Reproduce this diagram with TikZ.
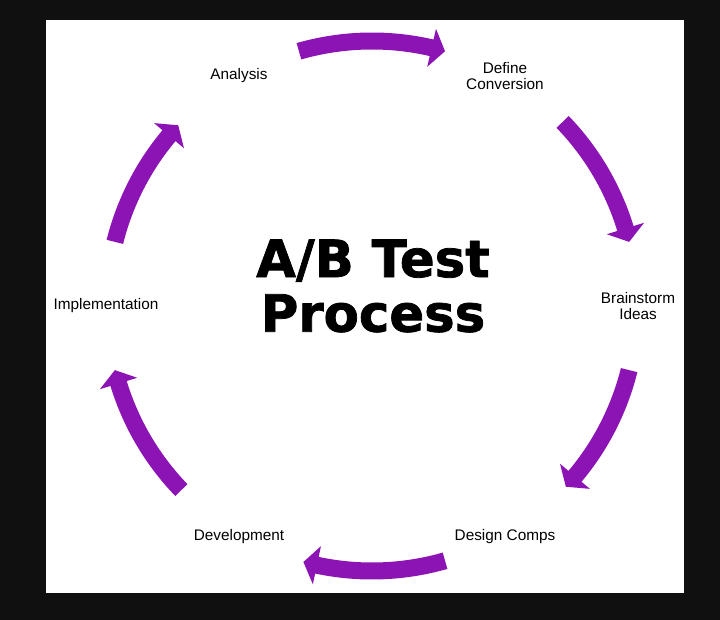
\documentclass[tikz,border=0pt]{standalone}
\usepackage{fontspec}
\setmainfont{Liberation Sans}
\newfontfamily\titlefont{DejaVu Sans}[BoldFeatures={FakeBold=1.5}]

\definecolor{cyclepurple}{RGB}{140,20,180}
\definecolor{framegray}{RGB}{16,16,16}

\tikzset{
    lbl/.style={align=center, font=\fontsize{11.5}{12}\selectfont},
    cycarrow/.style={fill=cyclepurple}
}

\begin{document}
\begin{tikzpicture}[x=0.75pt, y=0.75pt]
    % dark frame and white sheet
    \fill[framegray] (-372,306) rectangle (348,-314);
    \fill[white] (-326,286) rectangle (312,-287);

    % curved arrows round the cycle (band 17, head 39 wide)
    \foreach \a/\b [count=\p] in {106/74, 44/14, -14/-43, -74/-105, -136/-166, 166/137} {
        \pgfmathsetmacro\c{\b+3}
        \coordinate (s\p) at (\a:265);
        \coordinate (e\p) at (\b:265);
        \fill[cycarrow] (\a:273.5) arc (\a:\c:273.5) -- (\c:284.5) -- (e\p)
            -- (\c:245.5) -- (\c:256.5) arc (\c:\a:256.5) -- cycle;};

\node[lbl] (analysis) at (120:266) {Analysis};
\node[lbl] (define) at (60:266) {Define\\Conversion};
\node[lbl] (brainstorm) at (0:266) {Brainstorm\\Ideas};
\node[lbl] (design) at (-60:266) {Design Comps};
\node[lbl] (develop) at (-120:266) {Development};
\node[lbl] (implement) at (180:266) {Implementation};

\node[align=center, font=\titlefont\bfseries\fontsize{38.5}{41}\selectfont] (title) at (1,20) {A/B Test\\Process};
\end{tikzpicture}
\end{document}
